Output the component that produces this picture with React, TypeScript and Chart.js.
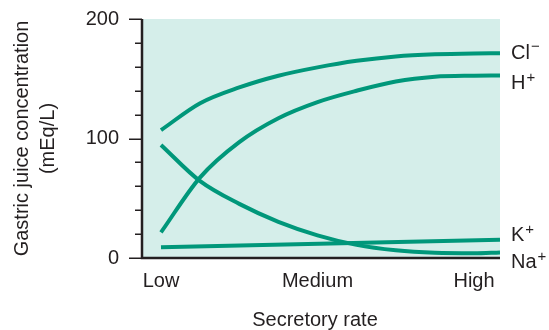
import { useEffect, useRef } from 'react';
import { Chart, registerables } from 'chart.js';

Chart.register(...registerables);

// ---- data ----
const xTickValues = [0, 1, 2];
const xTickLabels = ['Low', 'Medium', 'High'];
const yTickValues = [0, 20, 40, 60, 80, 100, 120, 140, 160, 180, 200];
const yLabelValues = [0, 100, 200];

const rateX = [0, 0.25, 0.5, 0.75, 1.0, 1.25, 1.5, 1.75, 2.0, 2.166];
const clY = [107, 129.5, 142.7, 152.5, 159.5, 165, 168.7, 170.5, 171.2, 171.3];
const hY = [21.5, 67.5, 97, 117, 130.5, 140, 147.7, 151.7, 152.6, 152.8];
const naY = [94.6, 64.3, 45.3, 30.3, 19, 11, 6.5, 4.4, 4, 4.7];
const kX = [0, 2.166];
const kY = [8.9, 15.3];

const seriesNames = ['Cl', 'H', 'K', 'Na'];
const seriesSigns = ['\u2212', '+', '+', '+'];
const labelValues = [171.5, 146, 18.5, -4];

const LINE = '#00977a';
const BG = '#d5eeea';
const INK = '#231f20';
const FONT = '"Liberation Sans", Arial, sans-serif';

const pts = (xs: number[], ys: number[]) => xs.map((x, i) => ({ x, y: ys[i] }));

const decor = {
  id: 'decor',
  beforeDatasetsDraw(chart: any) {
    const { ctx, chartArea: a } = chart;
    ctx.save();
    ctx.fillStyle = BG;
    ctx.fillRect(a.left, a.top, a.right - a.left, a.bottom - a.top);
    ctx.restore();
  },
  afterDatasetsDraw(chart: any) {
    const { ctx, chartArea: a } = chart;
    const ys = chart.scales.y;
    ctx.save();
    ctx.strokeStyle = INK;
    ctx.lineWidth = 2.5;
    ctx.beginPath();
    ctx.moveTo(a.left - 1, a.top);
    ctx.lineTo(a.left - 1, a.bottom);
    ctx.lineTo(a.right, a.bottom);
    ctx.stroke();
    ctx.lineWidth = 1.5;
    for (const v of yTickValues) {
      const py = Math.round(ys.getPixelForValue(v)) + 0.25;
      const len = yLabelValues.includes(v) ? 13 : 7;
      ctx.beginPath();
      ctx.moveTo(a.left - 1 - len, py);
      ctx.lineTo(a.left - 1, py);
      ctx.stroke();
    }
    // right-hand labels
    ctx.fillStyle = INK;
    ctx.textBaseline = 'middle';
    ctx.textAlign = 'left';
    const lx = a.right + 11;
    seriesNames.forEach((name, i) => {
      const py = ys.getPixelForValue(labelValues[i]);
      ctx.font = `20px ${FONT}`;
      ctx.fillText(name, lx, py);
      const w = ctx.measureText(name).width;
      ctx.font = `15px ${FONT}`;
      ctx.fillText(seriesSigns[i], lx + w + 1, py - 6);
    });
    // axis titles
    ctx.font = `20px ${FONT}`;
    ctx.textAlign = 'center';
    ctx.fillText('Secretory rate', 315, 320);
    ctx.save();
    ctx.translate(22, (a.top + a.bottom) / 2);
    ctx.rotate(-Math.PI / 2);
    ctx.fillText('Gastric juice concentration', 0, 0);
    ctx.fillText('(mEq/L)', 0, 26);
    ctx.restore();
    ctx.restore();
  },
};

export default function App() {
  const ref = useRef<HTMLCanvasElement | null>(null);
  useEffect(() => {
    if (!ref.current) return;
    const ds = (data: any[], smooth: boolean) => ({
      data,
      borderColor: LINE,
      borderWidth: 4,
      pointRadius: 0,
      fill: false,
      tension: smooth ? 0.4 : 0,
      cubicInterpolationMode: smooth ? ('monotone' as const) : ('default' as const),
      borderCapStyle: 'butt' as const,
    });
    const chart = new Chart(ref.current, {
      type: 'line',
      data: {
        datasets: [
          ds(pts(rateX, clY), true),
          ds(pts(rateX, hY), true),
          ds(pts(kX, kY), false),
          ds(pts(rateX, naY), true),
        ],
      },
      options: {
        animation: false,
        responsive: false,
        layout: { padding: { left: 0, right: 49, top: 19, bottom: 0 } },
        plugins: { legend: { display: false }, tooltip: { enabled: false } },
        scales: {
          x: {
            type: 'linear',
            min: -0.115,
            max: 2.166,
            grid: { display: false, drawTicks: false },
            border: { display: false },
            afterBuildTicks: (s: any) => {
              s.ticks = xTickValues.map((v) => ({ value: v }));
            },
            afterFit: (s: any) => {
              s.height = 72;
              s.paddingLeft = 0;
              s.paddingRight = 0;
            },
            ticks: {
              padding: 11,
              autoSkip: false,
              maxRotation: 0,
              color: INK,
              font: { family: FONT, size: 20 },
              callback: (v: any) => xTickLabels[xTickValues.indexOf(Number(v))] ?? '',
            },
          },
          y: {
            type: 'linear',
            min: 0,
            max: 200,
            grid: { display: false, drawTicks: false },
            border: { display: false },
            afterBuildTicks: (s: any) => {
              s.ticks = yLabelValues.map((v) => ({ value: v }));
            },
            afterFit: (s: any) => {
              s.width = 143;
              s.paddingTop = 0;
              s.paddingBottom = 0;
            },
            ticks: {
              padding: 24,
              color: INK,
              font: { family: FONT, size: 20 },
              callback: (v: any) => String(v),
            },
          },
        },
      },
      plugins: [decor],
    });
    return () => chart.destroy();
  }, []);
  return (
    <div style={{ position: 'absolute', left: 0, top: 0, width: 549, height: 330, background: '#fff' }}>
      <canvas ref={ref} width={549} height={330} />
    </div>
  );
}
